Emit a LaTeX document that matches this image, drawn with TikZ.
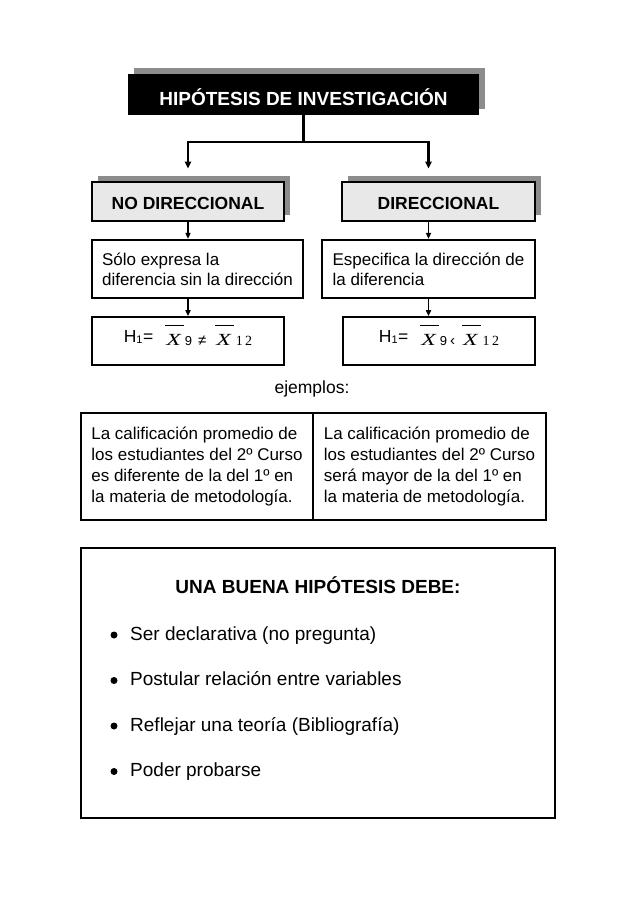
\documentclass[tikz,border=0pt]{standalone}
\usepackage{fontspec}
\setmainfont{Liberation Sans}
\newfontfamily\serifit{Liberation Serif}
\usetikzlibrary{arrows.meta,shadows}
\newcommand{\myxbar}{\makebox[0pt][l]{\hspace{-1pt}\raisebox{19.5pt}{\rule{19pt}{0.9pt}}}\scalebox{1.4}[1]{\serifit\itshape\fontsize{17}{17}\selectfont X}}
\newcommand{\subsans}[1]{{\fontsize{13}{13}\selectfont #1}}
\newcommand{\subserif}[1]{{\serifit\fontsize{14}{14}\selectfont #1}}
\newcommand{\hone}{\raisebox{3pt}{\fontsize{17.5}{17}\selectfont H\raisebox{-1pt}{\fontsize{11}{11}\selectfont 1}\hspace{0.5pt}=}}
\begin{document}
\begin{tikzpicture}[x=1pt,y=-1pt,
  conn/.style={line width=2.4pt},
  arr/.style={line width=2.2pt,-{Triangle[length=7pt,width=6pt]}},
  arrs/.style={line width=1.5pt,-{Triangle[length=6pt,width=5pt]}},
  topbox/.style={fill=black,text=white,inner sep=0pt,
    minimum width=351pt,minimum height=41pt,text height=21pt,text depth=0pt,
    font=\fontsize{19}{22}\selectfont\bfseries,
    general shadow={fill=black!45,shadow xshift=6pt,shadow yshift=6pt}},
  gbox/.style={draw=black,line width=2.6pt,fill=black!9,inner sep=0pt,
    minimum width=192pt,minimum height=39pt,text height=15.5pt,text depth=0pt,
    font=\fontsize{17.5}{20}\selectfont\bfseries,
    general shadow={fill=black!45,shadow xshift=6pt,shadow yshift=6.5pt}},
  dbox/.style={draw=black,line width=2.2pt,inner sep=0pt,align=left,
    minimum height=58pt,font=\fontsize{17}{20}\selectfont},
  fbox/.style={draw=black,line width=1.6pt,inner sep=0pt,
    minimum width=192pt,minimum height=48pt,text height=8pt,text depth=0pt},
  ebox/.style={draw=black,line width=2.4pt,inner sep=0pt,align=left,
    minimum height=107pt,font=\fontsize{17}{20.7}\selectfont},
  item/.style={anchor=base west,inner sep=0pt,font=\fontsize{19}{22}\selectfont},
  dot/.style={circle,fill=black,inner sep=0pt,minimum size=7pt}
]
\useasboundingbox[fill=white] (0,0) rectangle (638,903);

% title
\node[topbox] (hi) at (303.5,94.5) {HIPÓTESIS DE INVESTIGACIÓN};

% type boxes
\node[gbox] (nd) at (188,201.5) {NO DIRECCIONAL};
\node[gbox,minimum width=193pt] (d) at (438.5,201.5) {DIRECCIONAL};

% description boxes
\node[dbox,minimum width=211pt] (nl) at (197.5,269)
  {Sólo expresa la\\diferencia sin la dirección};
\node[dbox,minimum width=213pt] (dr) at (428.5,269)
  {Especifica la dirección de\\la diferencia};

% formula boxes
\node[fbox] (fl) at (188,341)
  {\hone\hspace{13pt}\myxbar\hspace{4pt}\subsans{9}\hspace{6pt}{\fontsize{15}{15}\selectfont ≠}\hspace{10pt}\myxbar\hspace{5pt}\subserif{1\,2}};
\node[fbox] (fr) at (439,341)
  {\hone\hspace{13pt}\myxbar\hspace{4pt}\subsans{9}\hspace{3pt}{\fontsize{15}{15}\selectfont ‹}\hspace{8pt}\myxbar\hspace{5pt}\subserif{1\,2}};

% ejemplos
\node[anchor=base,inner sep=0pt,font=\fontsize{17.5}{20}\selectfont] (ej) at (312,393) {ejemplos:};

% example boxes
\node[ebox,minimum width=232pt] (el) at (197,466.5)
  {La calificación promedio de\\los estudiantes del 2º Curso\\es diferente de la del 1º en\\la materia de metodología.};
\node[ebox,minimum width=233pt] (er) at (429.5,466.5)
  {La calificación promedio de\\los estudiantes del 2º Curso\\será mayor de la del 1º en\\la materia de metodología.};

% bottom box
\node[draw=black,line width=2.4pt,minimum width=474pt,minimum height=270pt,inner sep=0pt] (bb) at (318,683) {};
\node[anchor=base,inner sep=0pt,font=\fontsize{19}{22}\selectfont\bfseries] (bt) at (318,593) {UNA BUENA HIPÓTESIS DEBE:};
\node[dot] (b1) at (114,635) {};
\node[item] (i1) at (130,640) {Ser declarativa (no pregunta)};
\node[dot] (b2) at (114,680.5) {};
\node[item] (i2) at (130,685.5) {Postular relación entre variables};
\node[dot] (b3) at (114,726) {};
\node[item] (i3) at (130,731) {Reflejar una teoría (Bibliografía)};
\node[dot] (b4) at (114,771.5) {};
\node[item] (i4) at (130,776.5) {Poder probarse};

% connectors
\coordinate (j) at (303.5,142);
\draw[conn] (hi.south) -- (j);
\draw[arr,shorten >=12pt] (j) -| (nd.north);
\draw[arr,shorten >=12pt] (j) -| (dr.north |- d.north);
\draw[arrs] (nd.south) -- (nd.south |- nl.north);
\draw[arrs] (dr.north |- d.south) -- (dr.north);
\draw[arrs] (fl.north |- nl.south) -- (fl.north);
\draw[arrs] (dr.south) -- (dr.south |- fr.north);
\end{tikzpicture}
\end{document}
